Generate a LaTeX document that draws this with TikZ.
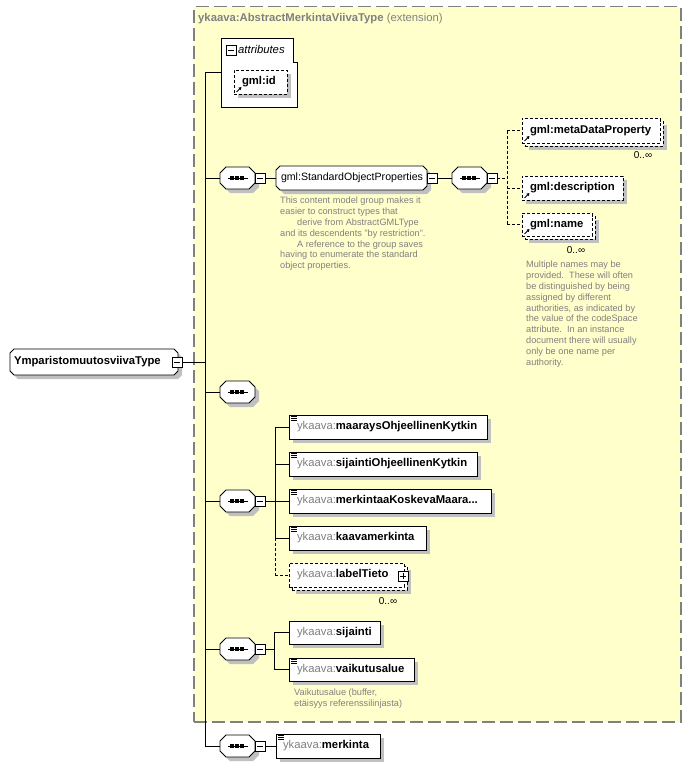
\documentclass[tikz,border=0pt]{standalone}
\usepackage{fontspec}
\setmainfont{Liberation Sans}
\usetikzlibrary{shadows,arrows.meta,calc}
\pgfdeclarelayer{bgzero}
\pgfdeclarelayer{bgone}
\pgfsetlayers{bgzero,bgone,main}
\definecolor{yel}{HTML}{FFFFCC}
\definecolor{framegray}{HTML}{808080}
\definecolor{shd}{HTML}{C0C0C0}
\definecolor{txtgray}{HTML}{808080}
\newcommand\lblfont{\fontsize{11.3}{13}\selectfont}
\newcommand\regfont{\fontsize{10.6}{13}\selectfont}
\newcommand\notefont{\fontsize{9.2}{10.8}\selectfont}
\newcommand\multfont{\fontsize{10}{12}\selectfont}
\newcommand\ykpre{{\color{txtgray}ykaava:}}
\newcommand\octshape[2]{%
\begin{pgfonlayer}{bgone}
\fill[shd] ([shift={(4+#2,4)}]#1.north west) -- ([shift={(4-#2,4)}]#1.north east) -- ([shift={(4,4+#2)}]#1.north east) -- ([shift={(4,4-#2)}]#1.south east) -- ([shift={(4-#2,4)}]#1.south east) -- ([shift={(4+#2,4)}]#1.south west) -- ([shift={(4,4-#2)}]#1.south west) -- ([shift={(4,4+#2)}]#1.north west) -- cycle;
\filldraw[fill=white, line width=0.9pt] ([shift={(#2,0)}]#1.north west) -- ([shift={(-#2,0)}]#1.north east) -- ([shift={(0,#2)}]#1.north east) -- ([shift={(0,-#2)}]#1.south east) -- ([shift={(-#2,0)}]#1.south east) -- ([shift={(#2,0)}]#1.south west) -- ([shift={(0,-#2)}]#1.south west) -- ([shift={(0,#2)}]#1.north west) -- cycle;
\end{pgfonlayer}}
\newcommand\seqnode[3]{%
\node[ghost, minimum width=35pt, minimum height=22pt, anchor=west] (#1) at (#2,#3) {};
\octshape{#1}{6}
\draw[line width=0.9pt] ([xshift=8pt]#1.west) -- ([xshift=-7pt]#1.east);
\foreach \dx in {12,17,22} \fill ([xshift=\dx pt]#1.west) ++(-1.6,-1.6) rectangle ++(3.2,3.2);}
\newcommand\minusb[2]{%
\node[pmbox] (#1) at (#2) {};
\draw[line width=0.8pt] ([xshift=2pt]#1.west) -- ([xshift=-2pt]#1.east);}
\newcommand\docicon[1]{\foreach \dy in {1.5,3.5,5.5}{\draw[line width=0.8pt] ([shift={(2,\dy)}]#1.north west) -- ++(6,0);}}
\newcommand\reficon[1]{\draw[line width=1pt,-{Triangle[length=2.8pt,width=3pt]}] ([shift={(2.5,-2)}]#1.south west) -- ++(5,-5);}
\begin{document}
\begin{tikzpicture}[x=1pt,y=-1pt,
  ghost/.style={draw=none, inner sep=0pt, outer sep=0pt},
  base/.style={draw, fill=white, line width=0.9pt, anchor=north west, inner xsep=8pt, inner ysep=0pt, outer sep=0pt, font=\lblfont},
  shadowed/.style={drop shadow={shadow xshift=4pt,shadow yshift=-4pt,fill=shd,opacity=1}},
  elbox/.style={base, shadowed},
  optbox/.style={base, shadowed, dash pattern=on 3pt off 2pt},
  optfront/.style={base, dash pattern=on 3pt off 2pt},
  rearbox/.style={optbox, inner sep=0pt},
  pmbox/.style={draw, fill=white, line width=0.8pt, minimum size=10pt, inner sep=0pt, outer sep=0pt, anchor=west},
  treeline/.style={line width=0.9pt},
  optline/.style={line width=0.9pt, dash pattern=on 3pt off 2pt},
  note/.style={inner sep=0pt, anchor=north west, align=left, font=\notefont, text=txtgray},
  mult/.style={inner sep=0pt, font=\multfont}]
\useasboundingbox (0,0) rectangle (691,768);
% extension frame
\begin{pgfonlayer}{bgzero}
\node[draw=framegray, fill=yel, line width=1.5pt, dash pattern=on 13pt off 5pt, minimum width=487pt, minimum height=715pt, anchor=north west, inner sep=0pt] (ext) at (193,6) {};
\end{pgfonlayer}
\node[anchor=west, font=\lblfont, text=txtgray, inner sep=0pt] (title) at (198,19) {\textbf{ykaava:AbstractMerkintaViivaType} (extension)};
% attributes
\node[ghost, minimum width=76pt, minimum height=69pt, anchor=north west] (attr) at (221,38) {};
\begin{pgfonlayer}{bgone}
\filldraw[fill=white, line width=0.9pt] (attr.north west) -- ([shift={(-4,0)}]attr.north east) -- ([shift={(-4,24)}]attr.north east) -- ([shift={(0,24)}]attr.north east) -- (attr.south east) -- (attr.south west) -- cycle;
\end{pgfonlayer}
\node[pmbox, anchor=center] (attrm) at (231,50) {};
\draw[line width=0.8pt] ([xshift=2pt]attrm.west) -- ([xshift=-2pt]attrm.east);
\node[anchor=west, inner sep=0pt, font=\lblfont\itshape] (attrtxt) at (238,49.5) {attributes};
\node[optbox, minimum height=24pt] (gmlid) at (234,70) {\makebox[37pt][l]{\textbf{gml:id}}};
\reficon{gmlid}
% root
\node[ghost, anchor=north west, minimum height=26pt, inner xsep=4pt, font=\lblfont] (root) at (10,349) {\makebox[160pt][l]{\textbf{YmparistomuutosviivaType}}};
\octshape{root}{4}
\minusb{rootm}{172,362}
% trunk
\coordinate (tt) at (205,72);
\coordinate (tb) at (205,746);
\draw[treeline] (tt) -- (tb);
\draw[treeline] (rootm.east) -- (tt |- rootm.east);
\draw[treeline] (tt) -- (attr.west |- tt);
% sequence 1
\seqnode{s1}{220}{178}
\minusb{s1m}{s1.east}
\draw[treeline] (tt |- s1.west) -- (s1.west);
\node[ghost, anchor=north west, minimum height=24pt, inner xsep=5pt, font=\regfont] (sop) at (276,166) {\makebox[141pt][l]{gml:StandardObjectProperties}};
\octshape{sop}{4}
\minusb{sopm}{sop.east}
\draw[treeline] (s1m.east) -- (sop.west);
\node[note] (sopnote) at (280,197) {This content model group makes it\\easier to construct types that\\\hspace*{17pt}derive from AbstractGMLType\\and its descendents "by restriction".\\\hspace*{17pt}A reference to the group saves\\having to enumerate the standard\\object properties.};
\seqnode{s1b}{452}{178}
\minusb{s1bm}{s1b.east}
\draw[treeline] (sopm.east) -- (s1b.west);
% gml children
\node[rearbox, minimum width=138pt, minimum height=25pt] (metaR) at (525,121) {};
\node[optfront, minimum height=25pt] (meta) at (522,118) {\makebox[122pt][l]{\textbf{gml:metaDataProperty}}};
\reficon{meta}
\node[mult] (metam) at (643,155) {0..∞};
\node[optbox, minimum height=24pt] (desc) at (522,176) {\makebox[85pt][l]{\textbf{gml:description}}};
\reficon{desc}
\node[rearbox, minimum width=70pt, minimum height=23pt] (nameR) at (525,216) {};
\node[optfront, minimum height=23pt] (name) at (522,213) {\makebox[54pt][l]{\textbf{gml:name}}};
\reficon{name}
\node[mult] (namem) at (576,250) {0..∞};
\node[note] (namenote) at (526,261) {Multiple names may be\\provided.\ \ These will often\\be distinguished by being\\assigned by different\\authorities, as indicated by\\the value of the codeSpace\\attribute.\ \ In an instance\\document there will usually\\only be one name per\\authority.};
\coordinate (j1) at (507,178);
\draw[optline] (s1bm.east) -- (j1);
\draw[optline] (j1 |- meta.west) -- (j1 |- name.west);
\draw[optline] (j1 |- meta.west) -- (meta.west);
\draw[optline] (j1 |- desc.west) -- (desc.west);
\draw[optline] (j1 |- name.west) -- (name.west);
% sequence 2
\seqnode{s2}{220}{392}
\draw[treeline] (tt |- s2.west) -- (s2.west);
% sequence 3
\seqnode{s3}{220}{501}
\minusb{s3m}{s3.east}
\draw[treeline] (tt |- s3.west) -- (s3.west);
\node[elbox, minimum height=24pt] (maarays) at (289,415) {\makebox[182pt][l]{\ykpre\textbf{maaraysOhjeellinenKytkin}}};
\docicon{maarays}
\node[elbox, minimum height=24pt] (sijo) at (289,452) {\makebox[172pt][l]{\ykpre\textbf{sijaintiOhjeellinenKytkin}}};
\docicon{sijo}
\node[elbox, minimum height=24pt] (merkk) at (289,489) {\makebox[186pt][l]{\ykpre\textbf{merkintaaKoskevaMaara...}}};
\docicon{merkk}
\node[elbox, minimum height=24pt] (kaava) at (289,526) {\makebox[121pt][l]{\ykpre\textbf{kaavamerkinta}}};
\docicon{kaava}
\node[rearbox, minimum width=115pt, minimum height=24pt] (labelR) at (292,566) {};
\node[optfront, minimum height=24pt] (label) at (289,563) {\makebox[99pt][l]{\ykpre\textbf{labelTieto}}};
\node[pmbox, anchor=center] (labelp) at (403,576) {};
\draw[line width=0.8pt] ([xshift=2pt]labelp.west) -- ([xshift=-2pt]labelp.east);
\draw[line width=0.8pt] ([yshift=-2pt]labelp.north) -- ([yshift=2pt]labelp.south);
\node[mult] (labelm) at (388,601) {0..∞};
\coordinate (j3) at (275,501);
\draw[treeline] (s3m.east) -- (j3);
\draw[treeline] (j3 |- maarays.west) -- (j3 |- kaava.west);
\draw[optline] (j3 |- kaava.west) -- (j3 |- label.west);
\draw[treeline] (j3 |- maarays.west) -- (maarays.west);
\draw[treeline] (j3 |- sijo.west) -- (sijo.west);
\draw[treeline] (j3 |- merkk.west) -- (merkk.west);
\draw[treeline] (j3 |- kaava.west) -- (kaava.west);
\draw[optline] (j3 |- label.west) -- (label.west);
% sequence 4
\seqnode{s4}{220}{649}
\minusb{s4m}{s4.east}
\draw[treeline] (tt |- s4.west) -- (s4.west);
\node[elbox, minimum height=23pt] (sij) at (289,621) {\makebox[75pt][l]{\ykpre\textbf{sijainti}}};
\node[elbox, minimum height=23pt] (vaik) at (289,658) {\makebox[109pt][l]{\ykpre\textbf{vaikutusalue}}};
\docicon{vaik}
\node[note] (vaiknote) at (294,689) {Vaikutusalue (buffer,\\etäisyys referenssilinjasta)};
\coordinate (j4) at (274,649);
\draw[treeline] (s4m.east) -- (j4);
\draw[treeline] (j4 |- sij.west) -- (j4 |- vaik.west);
\draw[treeline] (j4 |- sij.west) -- (sij.west);
\draw[treeline] (j4 |- vaik.west) -- (vaik.west);
% sequence 5
\seqnode{s5}{220}{746}
\minusb{s5m}{s5.east}
\draw[treeline] (tb) -- (s5.west);
\node[elbox, minimum height=24pt, inner xsep=7pt] (merk) at (276,734) {\makebox[90pt][l]{\ykpre\textbf{merkinta}}};
\docicon{merk}
\draw[treeline] (s5m.east) -- (merk.west);
\end{tikzpicture}
\end{document}
